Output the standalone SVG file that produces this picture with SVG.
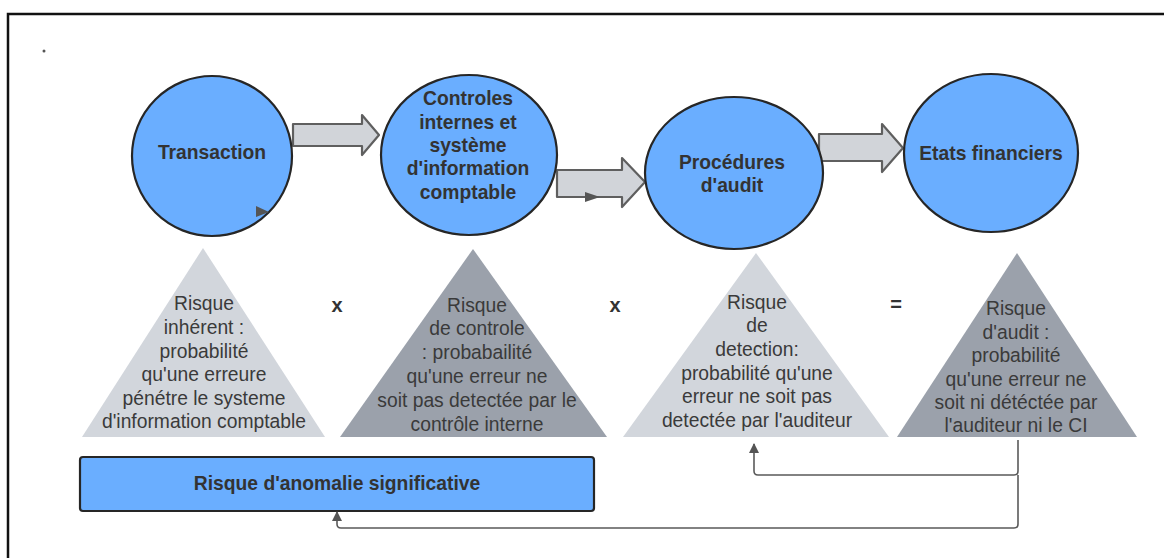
<svg xmlns="http://www.w3.org/2000/svg" width="1164" height="558" viewBox="0 0 1164 558">
<defs>
<style>
.node{fill:#6aaeff;stroke:#262626;stroke-width:2.2}
.h{font-family:"Liberation Sans",Arial,sans-serif;font-weight:bold;font-size:19.3px;fill:#333;text-anchor:middle;dominant-baseline:central}
.t{font-family:"Liberation Sans",Arial,sans-serif;font-size:19.3px;fill:#3a3a3a;text-anchor:middle;dominant-baseline:central}
.op{font-family:"Liberation Sans",Arial,sans-serif;font-weight:bold;font-size:20px;fill:#333;text-anchor:middle;dominant-baseline:central}
.barrow{fill:#d1d4d9;stroke:#5f5f5f;stroke-width:2.2;stroke-linejoin:round}
.light{fill:#d2d6dc}
.dark{fill:#9ba1ab}
.conn{fill:none;stroke:#5a5a5a;stroke-width:1.6}
</style>
<marker id="ah" viewBox="0 0 10 10" refX="9" refY="5" markerWidth="10" markerHeight="10" markerUnits="userSpaceOnUse" orient="auto">
<path d="M0,0 L10,5 L0,10 z" fill="#555"/>
</marker>
</defs>
<rect width="1164" height="558" fill="#fff"/>
<path d="M8,558 L8,14 L1164,14" fill="none" stroke="#111" stroke-width="2.5"/>
<circle cx="44" cy="51" r="1.5" fill="#555"/>

<g id="arrows-block">
<path class="barrow" d="M293,124 L362,124 L362,115 L379,135 L362,155 L362,146 L293,146 Z"/>
<path class="barrow" d="M557,170 L622,170 L622,158 L645,182 L622,207 L622,197 L557,197 Z"/>
<path class="barrow" d="M819,134 L882,134 L882,124 L903,148 L882,172 L882,161 L819,161 Z"/>
</g>

<g id="n-transaction">
<circle class="node" cx="212" cy="156" r="80"/>
<text class="h" x="212" y="152">Transaction</text>
<path d="M256,206 L269,212 L256,217 Z" fill="#555"/>
</g>
<g id="n-controles">
<ellipse class="node" cx="469" cy="155" rx="88" ry="80"/>
<text class="h" x="468" y="98">Controles</text>
<text class="h" x="468" y="122">internes et</text>
<text class="h" x="468" y="145">système</text>
<text class="h" x="468" y="168">d'information</text>
<text class="h" x="468" y="192">comptable</text>
</g>
<path d="M585,192 L600,197 L585,202 Z" fill="#555"/>
<g id="n-procedures">
<ellipse class="node" cx="734" cy="173" rx="89" ry="76"/>
<text class="h" x="732" y="162">Procédures</text>
<text class="h" x="732" y="185">d'audit</text>
</g>
<g id="n-etats">
<ellipse class="node" cx="991" cy="153" rx="87" ry="79"/>
<text class="h" x="991" y="153">Etats financiers</text>
</g>

<g id="n-risque-inherent">
<polygon class="light" points="203,248 325,437 82,437"/>
<text class="t" x="204" y="303">Risque</text>
<text class="t" x="204" y="327">inhérent :</text>
<text class="t" x="204" y="351">probabilité</text>
<text class="t" x="204" y="374">qu'une erreure</text>
<text class="t" x="204" y="398">pénétre le systeme</text>
<text class="t" x="204" y="421">d'information comptable</text>
</g>
<g id="n-risque-controle">
<polygon class="dark" points="473,249 607,437 340,437"/>
<text class="t" x="477" y="305">Risque</text>
<text class="t" x="477" y="328">de controle</text>
<text class="t" x="477" y="352">: probabailité</text>
<text class="t" x="477" y="376">qu'une erreur ne</text>
<text class="t" x="477" y="400">soit pas detectée par le</text>
<text class="t" x="477" y="424">contrôle interne</text>
</g>
<g id="n-risque-detection">
<polygon class="light" points="756,253 889,437 623,437"/>
<text class="t" x="757" y="302">Risque</text>
<text class="t" x="757" y="325">de</text>
<text class="t" x="757" y="349">detection:</text>
<text class="t" x="757" y="373">probabilité qu'une</text>
<text class="t" x="757" y="396">erreur ne soit pas</text>
<text class="t" x="757" y="420">detectée par l'auditeur</text>
</g>
<g id="n-risque-audit">
<polygon class="dark" points="1017,253 1137,437 897,437"/>
<text class="t" x="1016" y="308">Risque</text>
<text class="t" x="1016" y="332">d'audit :</text>
<text class="t" x="1016" y="355">probabilité</text>
<text class="t" x="1016" y="379">qu'une erreur ne</text>
<text class="t" x="1016" y="402">soit ni détéctée par</text>
<text class="t" x="1016" y="425">l'auditeur ni le CI</text>
</g>

<g id="operators">
<text class="op" x="337" y="305">x</text>
<text class="op" x="615" y="305">x</text>
<text class="op" x="896" y="304">=</text>
</g>

<g id="n-anomalie">
<rect class="node" x="80" y="457" width="514" height="54" rx="3" stroke="#3a3a3a"/>
<text class="h" x="337" y="483">Risque d'anomalie significative</text>
</g>

<g id="connectors">
<path class="conn" d="M1018,440 L1018,471 Q1018,475 1014,475 L758,475 Q754,475 754,471 L754,444" marker-end="url(#ah)"/>
<path class="conn" d="M1018,475 L1018,524 Q1018,528 1014,528 L341,528 Q337,528 337,524 L337,512" marker-end="url(#ah)"/>
</g>
</svg>
